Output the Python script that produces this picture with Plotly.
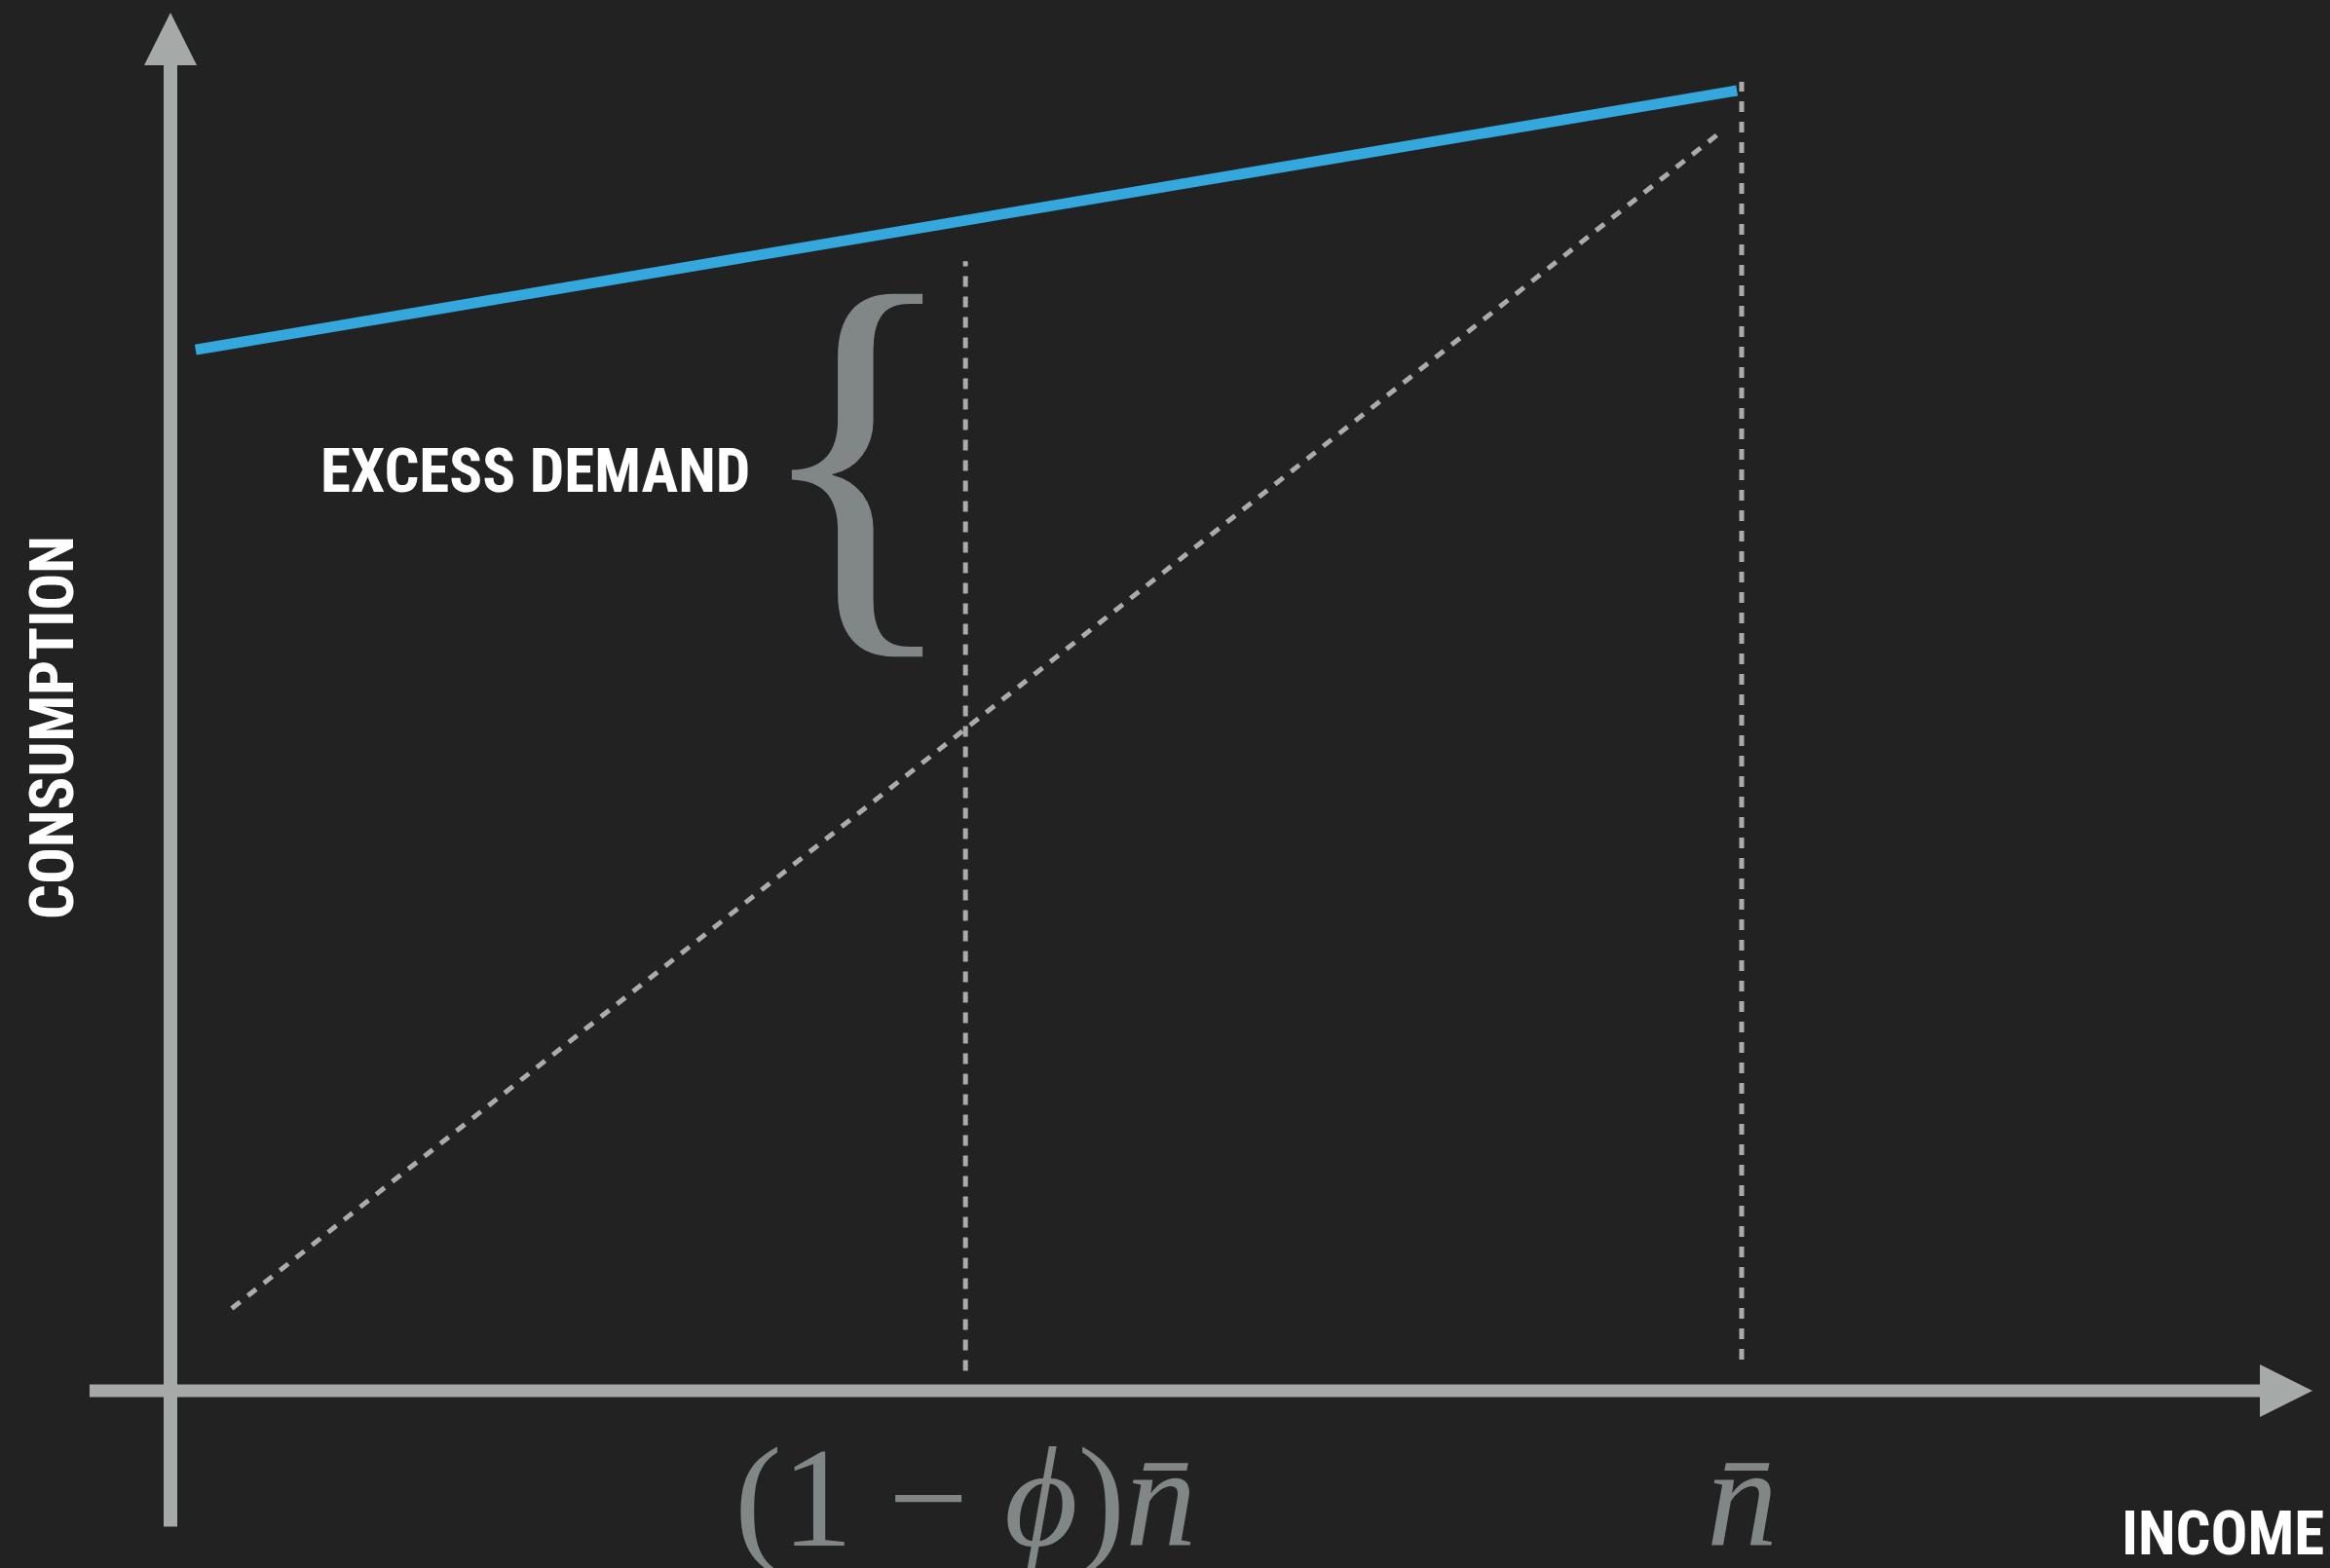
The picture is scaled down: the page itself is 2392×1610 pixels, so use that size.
import plotly.graph_objects as go

# income measured in units of n-bar, consumption on the same scale
income_demand = [0.016, 0.997]
consumption_demand = [0.835, 1.043]

income_45 = [0.039, 0.988]
consumption_45 = [0.066, 1.011]

phi = 0.494
guide_income = [1 - phi, 1.0]
guide_bottom = [0.016, 0.025]
guide_top = [0.906, 1.05]

tick_labels = ["(1 − <i>ϕ</i>)<i>n̄</i>", "<i>n̄</i>"]

# canvas / axis geometry (pixels)
W, H = 2392, 1610
ox, oy = 175, 1428          # where the two axes cross
ux, uy = 1613, 1280         # pixels per unit on each axis
x_range = [-ox / ux, (W - ox) / ux]
y_range = [-(H - oy) / uy, oy / uy]

x_axis_span = [-0.0515, 1.3633]
y_axis_span = [-0.109, 1.1055]
head = 54                   # arrow head length, px

BG = "#222222"
AXIS = "#a5a9a7"
DOTS = "#a9aca9"
BLUE = "#34a7dd"
MATH = "#818686"
LABEL_FONT = "Roboto Condensed, Liberation Sans Narrow, DejaVu Sans Condensed, sans-serif"

fig = go.Figure()

# 45 degree line
fig.add_trace(go.Scatter(x=income_45, y=consumption_45, mode="lines",
                         line=dict(color=DOTS, width=5, dash="11px,10px")))
# guides at (1-phi)n-bar and n-bar
for xi, y0, y1 in zip(guide_income, guide_bottom, guide_top):
    fig.add_trace(go.Scatter(x=[xi, xi], y=[y0, y1], mode="lines",
                             line=dict(color=DOTS, width=5, dash="11px,10px")))
# demand line
fig.add_trace(go.Scatter(x=income_demand, y=consumption_demand, mode="lines",
                         line=dict(color=BLUE, width=11)))

# axes with arrow heads
hx, hy = head / ux, head / uy
fig.add_shape(type="line", x0=x_axis_span[0], x1=x_axis_span[1] - hx, y0=0, y1=0,
              line=dict(color=AXIS, width=13), layer="below")
fig.add_shape(type="line", x0=0, x1=0, y0=y_axis_span[0], y1=y_axis_span[1] - hy,
              line=dict(color=AXIS, width=14), layer="below")
tip = x_axis_span[1]
fig.add_shape(type="path", fillcolor=AXIS, line=dict(width=0),
              path=f"M {tip - hx},{-hy / 2} L {tip},0 L {tip - hx},{hy / 2} Z")
tip = y_axis_span[1]
fig.add_shape(type="path", fillcolor=AXIS, line=dict(width=0),
              path=f"M {-hx / 2},{tip - hy} L 0,{tip} L {hx / 2},{tip - hy} Z")


def px(x, y):
    return x / W, 1 - y / H


def note(x, y, text, font, **kw):
    return dict(x=x, y=y, text=text, showarrow=False, font=font,
                xanchor=kw.pop("xanchor", "center"), yanchor="middle", **kw)


label_font = dict(family=LABEL_FONT, size=63, color="white", weight="bold")
annotations = []
for xi, lab in zip(guide_income, tick_labels):
    annotations.append(note(xi, px(0, 1538)[1], lab,
                            dict(family="Liberation Serif, DejaVu Serif, serif",
                                 size=146, color=MATH),
                            xref="x", yref="paper"))

x, y = px(549, 484)
annotations.append(note(x, y, "EXCESS DEMAND", label_font, xref="paper", yref="paper"))
x, y = px(880, 462)
annotations.append(note(x, y, "{", dict(family="Liberation Serif, serif", size=450, color=MATH),
                        xref="paper", yref="paper"))
x, y = px(54, 747)
annotations.append(note(x, y, "CONSUMPTION", label_font, xref="paper", yref="paper",
                        textangle=-90))
x, y = px(2388, 1574)
annotations.append(note(x, y, "INCOME", label_font, xref="paper", yref="paper",
                        xanchor="right"))

fig.update_layout(
    width=W, height=H,
    margin=dict(l=0, r=0, t=0, b=0),
    paper_bgcolor=BG, plot_bgcolor=BG,
    showlegend=False,
    xaxis=dict(range=x_range, visible=False, fixedrange=True),
    yaxis=dict(range=y_range, visible=False, fixedrange=True),
    annotations=annotations,
)

fig.write_html("out.html", config={"displayModeBar": False},
               post_script="document.body.style.margin='0';"
                           "document.body.style.background='#222222';")
